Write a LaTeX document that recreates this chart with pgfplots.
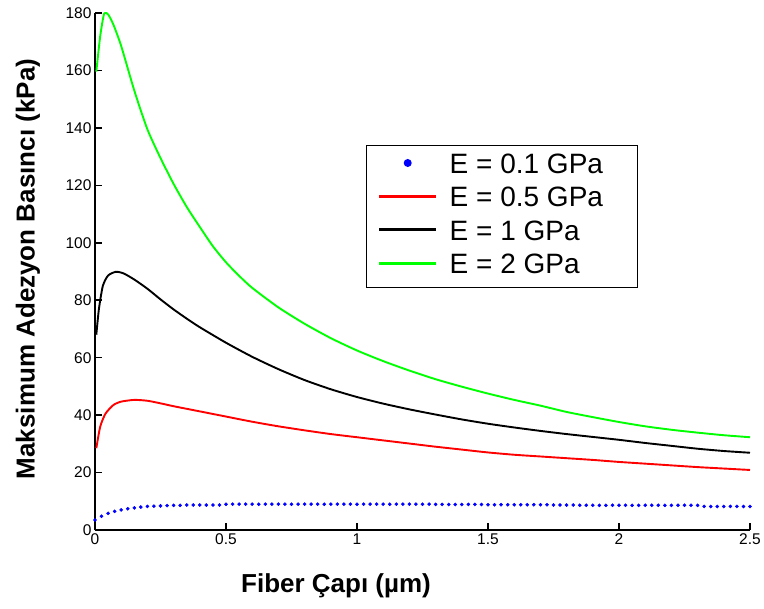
\documentclass[border=0pt]{standalone}
\usepackage{fontspec}
\setmainfont{Liberation Sans}
\usepackage{pgfplots}
\pgfplotsset{compat=1.18}
\definecolor{mblue}{RGB}{0,0,255}
\definecolor{mred}{RGB}{255,0,0}
\definecolor{mgreen}{RGB}{0,255,0}
\newcommand{\lent}[1]{\makebox[179pt][l]{#1}}
\begin{document}
\begin{tikzpicture}
\begin{axis}[
 scale only axis, width=655pt, height=517pt,
 xmin=0, xmax=2.5, ymin=0, ymax=180,
 axis x line*=bottom, axis y line*=left,
 axis line style={-, line width=2pt},
 xtick={0,0.5,1,1.5,2,2.5}, ytick={0,20,...,180},
 xticklabels={0,0.5,1,1.5,2,2.5},
 tick align=inside, major tick length=7pt, tick style={line width=1.6pt, black},
 ticklabel style={font=\fontsize{15.5}{18}\selectfont},
 /pgf/number format/assume math mode=true,
 xlabel={Fiber Çapı (µm)}, ylabel={Maksimum Adezyon Basıncı (kPa)},
 label style={font=\fontsize{26}{30}\selectfont\bfseries},
 xlabel style={at={(axis description cs:0.368,-0.12)}, anchor=base},
 ylabel style={at={(axis description cs:-0.1023,0.505)}, anchor=center},
 legend style={at={(axis description cs:0.4137,0.7447)}, anchor=north west,
   draw=black, line width=1.5pt, fill=white,
   font=\fontsize{28}{32}\selectfont, inner xsep=6pt, inner ysep=4pt, row sep=0pt,
   nodes={inner sep=3pt, text height=20.5pt, text depth=7pt}},
 legend cell align=left,
]
\addplot[only marks, mark=*, mark size=1.6pt, color=mblue,
  legend image code/.code={\path[draw=none,fill=none] (0pt,0pt) -- (74pt,0pt); \fill[mblue] (35pt,0.35em) circle (3.2pt);}]
coordinates {
(0,3.5)(0.025,4.8)(0.05,5.8)(0.075,6.5)(0.1,7.0)(0.125,7.4)(0.15,7.7)(0.175,8.0)(0.2,8.2)(0.225,8.3)
(0.25,8.4)(0.275,8.5)(0.3,8.6)(0.325,8.6)(0.35,8.7)(0.375,8.7)(0.4,8.7)(0.425,8.7)(0.45,8.7)(0.475,8.7)
(0.5,9.0)(0.525,9.0)(0.55,9.0)(0.575,9.0)(0.6,9.0)(0.625,9.0)(0.65,9.0)(0.675,9.0)(0.7,9.0)(0.725,9.0)
(0.75,9.0)(0.775,9.0)(0.8,9.0)(0.825,9.0)(0.85,9.0)(0.875,9.0)(0.9,9.0)(0.925,9.0)(0.95,9.0)(0.975,9.0)
(1.0,9.0)(1.025,9.0)(1.05,9.0)(1.075,9.0)(1.1,9.0)(1.125,9.0)(1.15,9.0)(1.175,9.0)(1.2,9.0)(1.225,9.0)
(1.25,9.0)(1.275,9.0)(1.3,8.9)(1.325,8.9)(1.35,8.9)(1.375,8.9)(1.4,8.9)(1.425,8.9)(1.45,8.9)(1.475,8.9)
(1.5,8.8)(1.525,8.8)(1.55,8.8)(1.575,8.8)(1.6,8.8)(1.625,8.8)(1.65,8.8)(1.675,8.8)(1.7,8.8)(1.725,8.8)
(1.75,8.7)(1.775,8.7)(1.8,8.7)(1.825,8.7)(1.85,8.6)(1.875,8.6)(1.9,8.6)(1.925,8.6)(1.95,8.6)(1.975,8.6)
(2.0,8.6)(2.025,8.6)(2.05,8.6)(2.075,8.6)(2.1,8.6)(2.125,8.6)(2.15,8.6)(2.175,8.6)(2.2,8.6)(2.225,8.6)
(2.25,8.6)(2.275,8.6)(2.3,8.6)(2.325,8.2)(2.35,8.2)(2.375,8.2)(2.4,8.2)(2.425,8.2)(2.45,8.2)(2.475,8.2)
(2.5,8.2)
};
\addlegendentry{\lent{E = 0.1 GPa}}
\addplot[color=mred, line width=1.9pt, smooth, tension=0.4,
  legend image code/.code={\path[draw=none,fill=none] (0pt,0pt) -- (74pt,0pt); \draw[mred, line width=3pt] (6.7pt,0.35em) -- (63pt,0.35em);}]
coordinates {
(0.005,28.5)(0.02,36)(0.04,40.5)(0.07,43.5)(0.1,44.7)(0.15,45.3)(0.2,45.0)(0.25,44.1)
(0.3,43.1)(0.4,41.3)(0.5,39.5)(0.6,37.7)(0.7,36.1)(0.8,34.7)(0.9,33.4)(1.0,32.3)(1.1,31.2)
(1.2,30.1)(1.3,29.0)(1.4,28.0)(1.5,27.0)(1.6,26.2)(1.7,25.6)(1.8,25.0)(1.9,24.4)(2.0,23.7)
(2.1,23.1)(2.2,22.5)(2.3,21.9)(2.4,21.4)(2.5,20.9)
};
\addlegendentry{\lent{E = 0.5 GPa}}
\addplot[color=black, line width=1.9pt, smooth, tension=0.4,
  legend image code/.code={\path[draw=none,fill=none] (0pt,0pt) -- (74pt,0pt); \draw[black, line width=3pt] (6.7pt,0.35em) -- (63pt,0.35em);}]
coordinates {
(0.005,68)(0.015,77)(0.03,85)(0.05,88.6)(0.08,89.9)(0.11,89.3)(0.15,87.2)(0.2,84)(0.25,80.3)
(0.3,76.8)(0.35,73.6)(0.4,70.6)(0.5,65.2)(0.6,60.3)(0.7,56.0)(0.8,52.2)(0.9,49.0)(1.0,46.3)
(1.1,44.0)(1.2,42.0)(1.3,40.2)(1.4,38.5)(1.5,37.0)(1.6,35.7)(1.7,34.5)(1.8,33.4)(1.9,32.4)
(2.0,31.4)(2.1,30.3)(2.2,29.3)(2.3,28.3)(2.4,27.5)(2.5,26.9)
};
\addlegendentry{\lent{E = 1 GPa}}
\addplot[color=mgreen, line width=1.9pt, smooth, tension=0.4,
  legend image code/.code={\path[draw=none,fill=none] (0pt,0pt) -- (74pt,0pt); \draw[mgreen, line width=3pt] (6.7pt,0.35em) -- (63pt,0.35em);}]
coordinates {
(0.005,159.6)(0.02,172)(0.035,179.8)(0.05,179.5)(0.07,176)(0.1,168.5)(0.15,153)(0.2,139.5)
(0.25,129.5)(0.3,120.5)(0.35,112.5)(0.4,105.5)(0.45,98.8)(0.5,93.2)(0.55,88.5)(0.6,84.3)(0.7,77.5)(0.8,71.8)
(0.9,66.8)(1.0,62.5)(1.1,58.8)(1.2,55.5)(1.3,52.5)(1.4,49.9)(1.5,47.5)(1.6,45.3)(1.7,43.3)
(1.8,41.1)(1.9,39.3)(2.0,37.6)(2.1,36.1)(2.2,34.9)(2.3,33.9)(2.4,33.0)(2.5,32.3)
};
\addlegendentry{\lent{E = 2 GPa}}
\end{axis}
\pgfresetboundingbox
\path[use as bounding box] ([shift={(-95pt,-78pt)}]current axis.south west) rectangle ([shift={(14pt,13pt)}]current axis.north east);
\end{tikzpicture}
\end{document}
